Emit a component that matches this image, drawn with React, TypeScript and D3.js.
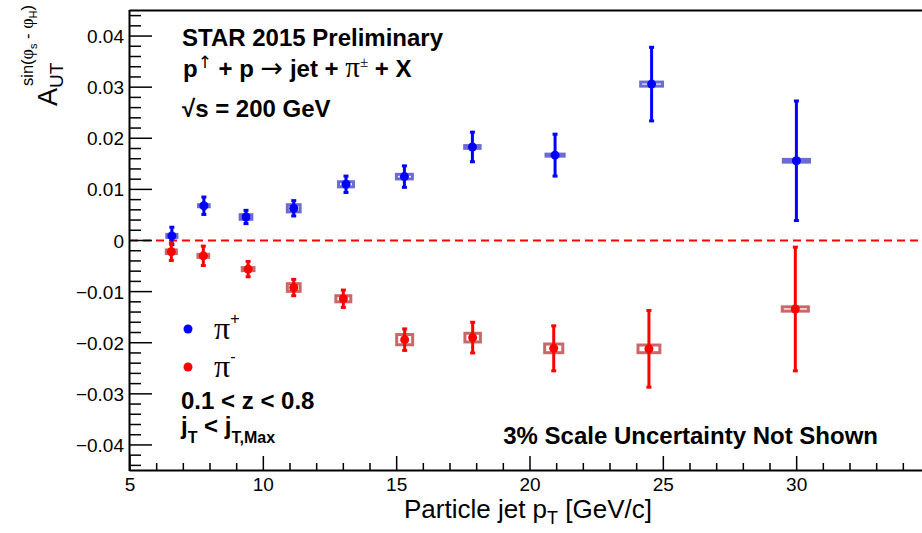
import React from "react";
import * as d3 from "d3";

// ---- data ----
const pTPlus = [6.57, 7.77, 9.35, 11.14, 13.1, 15.29, 17.84, 20.94, 24.56, 29.99];
const aPlus = [0.0009, 0.0068, 0.0046, 0.0063, 0.011, 0.0125, 0.0183, 0.0167, 0.0306, 0.0156];
const errPlus = [0.0017, 0.0017, 0.0013, 0.0015, 0.0016, 0.0021, 0.0029, 0.0041, 0.0072, 0.0117];
const sysPlus = [0.0003, 0.0002, 0.00045, 0.0007, 0.0005, 0.00045, 0.00027, 0.0002, 0.0004, 0.00027];

const pTMinus = [6.55, 7.75, 9.43, 11.14, 13.0, 15.3, 17.85, 20.89, 24.46, 29.95];
const aMinus = [-0.0022, -0.003, -0.0056, -0.0092, -0.0114, -0.0194, -0.019, -0.0211, -0.0212, -0.0134];
const errMinus = [0.0017, 0.0019, 0.0015, 0.0016, 0.0017, 0.0021, 0.003, 0.0044, 0.0075, 0.0121];
const sysMinus = [0.00035, 0.0003, 0.0003, 0.00075, 0.0006, 0.001, 0.00085, 0.00085, 0.00075, 0.00042];

const xSys = [0.19, 0.2, 0.22, 0.24, 0.28, 0.3, 0.29, 0.34, 0.41, 0.49];

const xMajorTicks = [5, 10, 15, 20, 25, 30];
const yMajorTicks = [-0.04, -0.03, -0.02, -0.01, 0, 0.01, 0.02, 0.03, 0.04];
const yTickLabels = ["\u22120.04", "\u22120.03", "\u22120.02", "\u22120.01", "0", "0.01", "0.02", "0.03", "0.04"];

const W = 922;
const H = 533;
const SANS = "'Liberation Sans', Arial, Helvetica, sans-serif";
const SERIF = "'Liberation Serif', 'Times New Roman', serif";
const SYM = "'DejaVu Sans', sans-serif";

export default function App() {
  const x = d3.scaleLinear().domain([5, 35]).range([130, 930]);
  const y = d3.scaleLinear().domain([-0.045, 0.045]).range([470.5, 10.5]);

  const xMinor = d3.range(5, 36, 1);
  const yMinor = d3.range(-22, 23).map((i) => i * 0.002);

  const series = [
    { pt: pTPlus, a: aPlus, err: errPlus, sys: sysPlus, color: "#0000ff", box: "#6c6cd0" },
    { pt: pTMinus, a: aMinus, err: errMinus, sys: sysMinus, color: "#ff0000", box: "#c86868" },
  ];

  return (
    <svg width={W} height={H} style={{ position: "absolute", left: 0, top: 0, background: "#fff" }}>
      <rect x={0} y={0} width={W} height={H} fill="#fff" />
      {/* zero line */}
      <line x1={x(5)} x2={W} y1={y(0)} y2={y(0)} stroke="#ff0000" strokeWidth={2} strokeDasharray="8,5" />

      {/* data */}
      {series.map((s, si) => (
        <g key={si}>
          {s.pt.map((pt, i) => {
            const cx = x(pt);
            const cy = y(s.a[i]);
            const bw = x(pt + xSys[i]) - x(pt - xSys[i]);
            const bh = y(s.a[i] - s.sys[i]) - y(s.a[i] + s.sys[i]);
            return (
              <rect key={"b" + i} x={cx - bw / 2} y={cy - bh / 2} width={bw} height={bh}
                fill="none" stroke={s.box} strokeWidth={3} />
            );
          })}
          {s.pt.map((pt, i) => {
            const cx = x(pt);
            const yt = y(s.a[i] + s.err[i]);
            const yb = y(s.a[i] - s.err[i]);
            return (
              <g key={"e" + i} stroke={s.color} strokeWidth={3}>
                <line x1={cx} x2={cx} y1={yt} y2={yb} />
                <line x1={cx - 2.5} x2={cx + 2.5} y1={yt} y2={yt} />
                <line x1={cx - 2.5} x2={cx + 2.5} y1={yb} y2={yb} />
              </g>
            );
          })}
          {s.pt.map((pt, i) => (
            <circle key={"m" + i} cx={x(pt)} cy={y(s.a[i])} r={4.5} fill={s.color} />
          ))}
        </g>
      ))}

      {/* frame */}
      <line x1={129.5} x2={W} y1={10.5} y2={10.5} stroke="#000" strokeWidth={2} />
      <line x1={129.5} x2={W} y1={470.5} y2={470.5} stroke="#000" strokeWidth={2} />
      <line x1={129.5} x2={129.5} y1={10} y2={471} stroke="#000" strokeWidth={2} />

      {/* y ticks */}
      {yMinor.map((v, i) => {
        const major = Math.abs(Math.round(v * 1000) % 10) === 0;
        return (
          <line key={"yt" + i} x1={130} x2={130 + (major ? 22 : 11)} y1={y(v)} y2={y(v)} stroke="#000" strokeWidth={1.5} />
        );
      })}
      {yMajorTicks.map((v, i) => (
        <text key={"yl" + i} x={124} y={y(v) + 7} textAnchor="end" fontFamily={SANS} fontSize={19} fill="#000">
          {yTickLabels[i]}
        </text>
      ))}

      {/* x ticks */}
      {xMinor.map((v) => {
        const major = v % 5 === 0;
        return (
          <line key={"xt" + v} x1={x(v)} x2={x(v)} y1={470} y2={470 - (major ? 14 : 7)} stroke="#000" strokeWidth={1.5} />
        );
      })}
      {xMajorTicks.map((v) => (
        <text key={"xl" + v} x={x(v)} y={491} textAnchor="middle" fontFamily={SANS} fontSize={19} fill="#000">
          {v}
        </text>
      ))}

      {/* x title */}
      <text x={528} y={518} textAnchor="middle" fontFamily={SANS} fontSize={26} fill="#000">
        Particle jet p<tspan dy={6} fontSize={18}>T</tspan>
        <tspan dy={-6}> [GeV/c]</tspan>
      </text>

      {/* y title */}
      <g transform="translate(57,106) rotate(-90)" fontFamily={SANS} fill="#000">
        <text x={0} y={0} fontSize={27}>A</text>
        <text x={18} y={6} fontSize={19}>UT</text>
        <text x={20} y={-24} fontSize={16.5}>
          sin(<tspan fontFamily={SERIF} fontSize={18}>φ</tspan>
          <tspan dy={4} fontSize={11}>s</tspan>
          <tspan dy={-4}> - </tspan>
          <tspan fontFamily={SERIF} fontSize={18}>φ</tspan>
          <tspan dy={4} fontSize={11}>H</tspan>
          <tspan dy={-4}>)</tspan>
        </text>
      </g>

      {/* top annotations */}
      <g fontFamily={SANS} fontWeight="bold" fontSize={24} fill="#000">
        <text x={182} y={46}>STAR 2015 Preliminary</text>
        <text x={183} y={77}>
          p<tspan dy={-9} fontSize={17} fontWeight="normal" fontFamily={SYM}>↑</tspan>
          <tspan dy={9}> + p </tspan>
          <tspan fontWeight="normal" fontFamily={SYM} fontSize={27}>→</tspan>
          <tspan> jet +  </tspan>
          <tspan fontWeight="normal" fontFamily={SERIF} fontSize={29}>π</tspan>
          <tspan dy={-10} fontSize={15} fontWeight="normal" fontFamily={SERIF}>±</tspan>
          <tspan dy={10}> + X</tspan>
        </text>
        <text x={182} y={117}>√s = 200 GeV</text>
      </g>

      {/* legend */}
      <circle cx={188} cy={329} r={4.5} fill="#0000ff" />
      <circle cx={188} cy={367} r={4.5} fill="#ff0000" />
      <text x={214} y={339} fontFamily={SERIF} fontSize={32} fill="#000">
        π<tspan dy={-15} fontSize={16} fontFamily={SANS}>+</tspan>
      </text>
      <text x={214} y={377} fontFamily={SERIF} fontSize={32} fill="#000">
        π<tspan dy={-15} fontSize={16} fontFamily={SANS}>-</tspan>
      </text>

      <g fontFamily={SANS} fontWeight="bold" fontSize={24} fill="#000">
        <text x={181} y={409}>0.1 &lt; z &lt; 0.8</text>
        <text x={181} y={434}>
          j<tspan dy={9} fontSize={16}>T</tspan>
          <tspan dy={-9}> &lt; j</tspan>
          <tspan dy={9} fontSize={16}>T,Max</tspan>
        </text>
        <text x={878} y={444} textAnchor="end">3% Scale Uncertainty Not Shown</text>
      </g>
    </svg>
  );
}
